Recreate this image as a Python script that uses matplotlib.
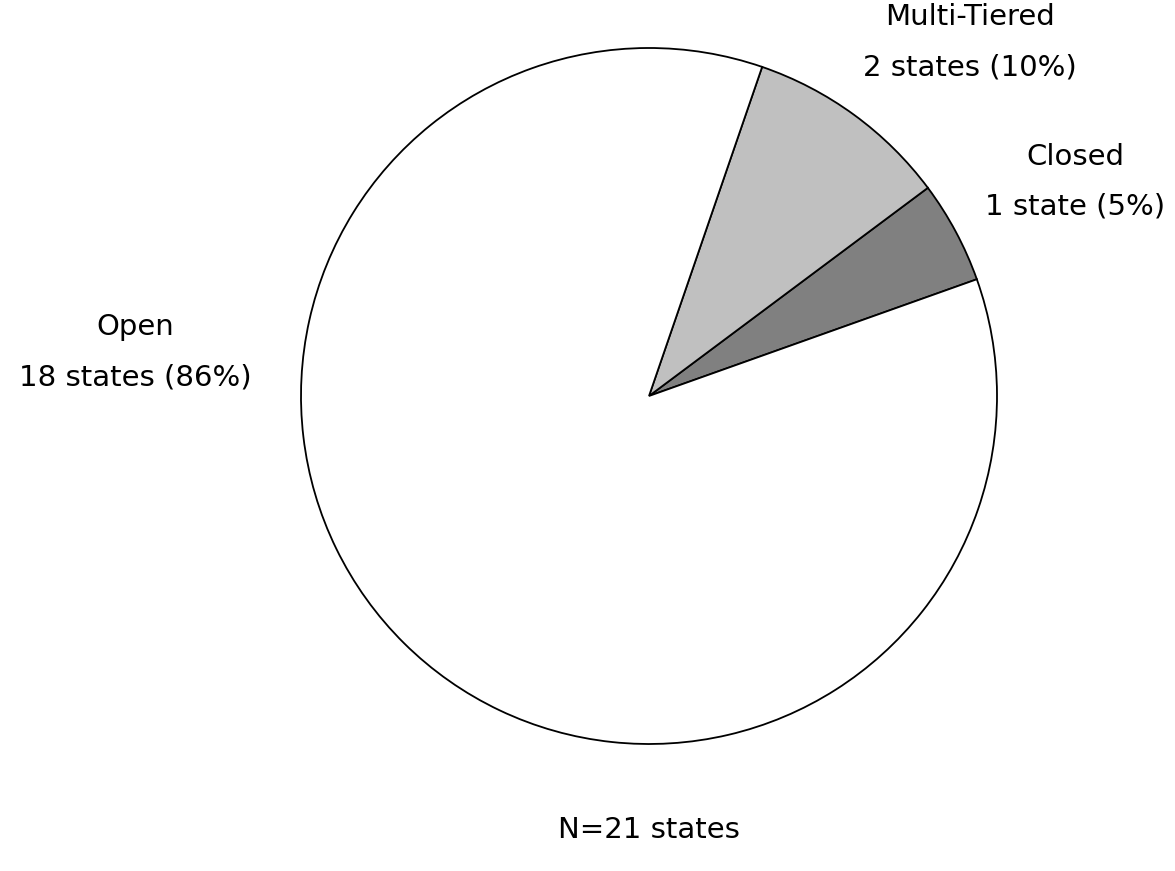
import matplotlib
matplotlib.use("Agg")
import matplotlib.pyplot as plt

categories = ["Closed", "Multi-Tiered", "Open"]
counts = [1, 2, 18]
percents = [5, 10, 86]
colors = ["#808080", "#C0C0C0", "#FFFFFF"]
total_label = "N=21 states"

W, H = 1175, 871
fig = plt.figure(figsize=(W / 100, H / 100), dpi=100)
cx, cy, r = 649, 396, 348
ax = fig.add_axes([(cx - r) / W, (H - cy - r) / H, 2 * r / W, 2 * r / H])
ax.pie(counts, colors=colors, startangle=19.6, counterclock=True,
       wedgeprops=dict(edgecolor="black", linewidth=1.3), radius=1.0)
ax.set_xlim(-1, 1)
ax.set_ylim(-1, 1)
ax.axis("off")

def lab(name, n, p):
    unit = "state" if n == 1 else "states"
    return f"{name}\n{n} {unit} ({p}%)"

label_pos = {"Closed": (1.224, 0.615), "Multi-Tiered": (0.922, 1.017), "Open": (-1.477, 0.126)}
for name, n, p in zip(categories, counts, percents):
    x, y = label_pos[name]
    ax.text(x, y, lab(name, n, p), ha="center", va="center", fontsize=21,
            linespacing=2.0, family="DejaVu Sans", clip_on=False)

ax.text(0, -1.247, total_label, ha="center", va="center", fontsize=21,
        family="DejaVu Sans", clip_on=False)

fig.savefig("out.png", dpi=100, facecolor="white")
